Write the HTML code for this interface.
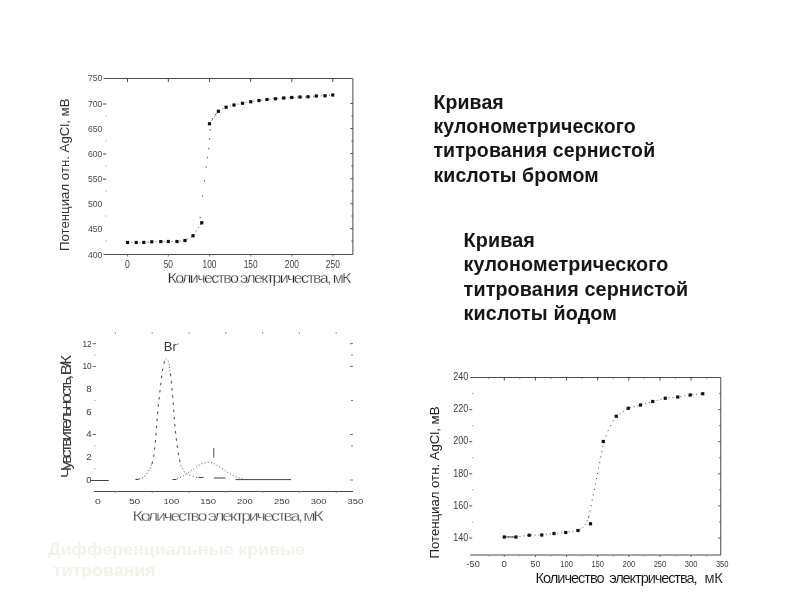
<!DOCTYPE html>
<html lang="ru"><head><meta charset="utf-8"><title>Кривые кулонометрического титрования</title>
<style>
html,body{margin:0;padding:0;background:#fff;}
body{width:800px;height:600px;position:relative;overflow:hidden;font-family:"Liberation Sans",sans-serif;}
.t{position:absolute;font-weight:bold;font-size:19.5px;line-height:24.2px;letter-spacing:0.12px;color:#151515;white-space:nowrap;}
#t1{left:433.4px;top:90.0px;}
#t2{left:463.6px;top:227.6px;line-height:24.5px;font-size:19.75px;}
#cap{position:absolute;left:48px;top:538.5px;font-weight:bold;font-size:16px;line-height:21.6px;color:#f3f2e9;white-space:pre;transform:scaleX(1.11);transform-origin:0 0;}
svg{position:absolute;left:0;top:0;}
svg text{font-family:"Liberation Sans",sans-serif;filter:blur(0.3px);}
svg text.ti{filter:none;}
</style></head><body>
<svg width="800" height="600" viewBox="0 0 800 600" shape-rendering="auto">
<g>
<line x1="103.5" y1="78.5" x2="352.9" y2="78.5" stroke="#4a4a4a" stroke-width="1" />
<line x1="103.5" y1="254.5" x2="352.9" y2="254.5" stroke="#4a4a4a" stroke-width="1" />
<line x1="352.9" y1="78.5" x2="352.9" y2="254.5" stroke="#4a4a4a" stroke-width="1" />
<line x1="127.5" y1="78.5" x2="127.5" y2="82.0" stroke="#4a4a4a" stroke-width="1" />
<line x1="127.5" y1="254.5" x2="127.5" y2="256.5" stroke="#777" stroke-width="1" />
<text x="127.5" y="267.8" font-size="10.8" text-anchor="middle" fill="#3a3a3a" textLength="4.8" lengthAdjust="spacingAndGlyphs" >0</text>
<line x1="168.3" y1="78.5" x2="168.3" y2="82.0" stroke="#4a4a4a" stroke-width="1" />
<line x1="168.3" y1="254.5" x2="168.3" y2="256.5" stroke="#777" stroke-width="1" />
<text x="168.3" y="267.8" font-size="10.8" text-anchor="middle" fill="#3a3a3a" textLength="9.2" lengthAdjust="spacingAndGlyphs" >50</text>
<line x1="209.5" y1="78.5" x2="209.5" y2="82.0" stroke="#4a4a4a" stroke-width="1" />
<line x1="209.5" y1="254.5" x2="209.5" y2="256.5" stroke="#777" stroke-width="1" />
<text x="209.5" y="267.8" font-size="10.8" text-anchor="middle" fill="#3a3a3a" textLength="14" lengthAdjust="spacingAndGlyphs" >100</text>
<line x1="250.7" y1="78.5" x2="250.7" y2="82.0" stroke="#4a4a4a" stroke-width="1" />
<line x1="250.7" y1="254.5" x2="250.7" y2="256.5" stroke="#777" stroke-width="1" />
<text x="250.7" y="267.8" font-size="10.8" text-anchor="middle" fill="#3a3a3a" textLength="14" lengthAdjust="spacingAndGlyphs" >150</text>
<line x1="291.8" y1="78.5" x2="291.8" y2="82.0" stroke="#4a4a4a" stroke-width="1" />
<line x1="291.8" y1="254.5" x2="291.8" y2="256.5" stroke="#777" stroke-width="1" />
<text x="291.8" y="267.8" font-size="10.8" text-anchor="middle" fill="#3a3a3a" textLength="14" lengthAdjust="spacingAndGlyphs" >200</text>
<line x1="332.8" y1="78.5" x2="332.8" y2="82.0" stroke="#4a4a4a" stroke-width="1" />
<line x1="332.8" y1="254.5" x2="332.8" y2="256.5" stroke="#777" stroke-width="1" />
<text x="332.8" y="267.8" font-size="10.8" text-anchor="middle" fill="#3a3a3a" textLength="14" lengthAdjust="spacingAndGlyphs" >250</text>
<text x="102.3" y="80.75" font-size="9.8" text-anchor="end" fill="#484848" textLength="14.4" lengthAdjust="spacingAndGlyphs" >750</text>
<text x="102.3" y="106.5" font-size="9.8" text-anchor="end" fill="#484848" textLength="14.4" lengthAdjust="spacingAndGlyphs" >700</text>
<line x1="103.0" y1="104.0" x2="106.3" y2="104.0" stroke="#4a4a4a" stroke-width="1" />
<line x1="350.4" y1="103.5" x2="352.9" y2="103.5" stroke="#4a4a4a" stroke-width="1" />
<text x="102.3" y="131.5" font-size="9.8" text-anchor="end" fill="#484848" textLength="14.4" lengthAdjust="spacingAndGlyphs" >650</text>
<line x1="350.4" y1="128.5" x2="352.9" y2="128.5" stroke="#4a4a4a" stroke-width="1" />
<text x="102.3" y="156.5" font-size="9.8" text-anchor="end" fill="#484848" textLength="14.4" lengthAdjust="spacingAndGlyphs" >600</text>
<line x1="103.0" y1="154.0" x2="106.3" y2="154.0" stroke="#4a4a4a" stroke-width="1" />
<line x1="350.4" y1="153.5" x2="352.9" y2="153.5" stroke="#4a4a4a" stroke-width="1" />
<text x="102.3" y="181.7" font-size="9.8" text-anchor="end" fill="#484848" textLength="14.4" lengthAdjust="spacingAndGlyphs" >550</text>
<line x1="103.0" y1="179.2" x2="106.3" y2="179.2" stroke="#4a4a4a" stroke-width="1" />
<line x1="350.4" y1="178.7" x2="352.9" y2="178.7" stroke="#4a4a4a" stroke-width="1" />
<text x="102.3" y="206.7" font-size="9.8" text-anchor="end" fill="#484848" textLength="14.4" lengthAdjust="spacingAndGlyphs" >500</text>
<line x1="350.4" y1="203.7" x2="352.9" y2="203.7" stroke="#4a4a4a" stroke-width="1" />
<text x="102.3" y="231.7" font-size="9.8" text-anchor="end" fill="#484848" textLength="14.4" lengthAdjust="spacingAndGlyphs" >450</text>
<line x1="350.4" y1="228.7" x2="352.9" y2="228.7" stroke="#4a4a4a" stroke-width="1" />
<text x="102.3" y="257.5" font-size="9.8" text-anchor="end" fill="#484848" textLength="14.4" lengthAdjust="spacingAndGlyphs" >400</text>
<line x1="105.5" y1="116" x2="106.5" y2="116" stroke="#888" stroke-width="1" />
<line x1="351.4" y1="116" x2="352.9" y2="116" stroke="#4a4a4a" stroke-width="1" />
<line x1="105.5" y1="141" x2="106.5" y2="141" stroke="#888" stroke-width="1" />
<line x1="351.4" y1="141" x2="352.9" y2="141" stroke="#4a4a4a" stroke-width="1" />
<line x1="105.5" y1="166" x2="106.5" y2="166" stroke="#888" stroke-width="1" />
<line x1="351.4" y1="166" x2="352.9" y2="166" stroke="#4a4a4a" stroke-width="1" />
<line x1="105.5" y1="191" x2="106.5" y2="191" stroke="#888" stroke-width="1" />
<line x1="351.4" y1="191" x2="352.9" y2="191" stroke="#4a4a4a" stroke-width="1" />
<line x1="105.5" y1="216" x2="106.5" y2="216" stroke="#888" stroke-width="1" />
<line x1="351.4" y1="216" x2="352.9" y2="216" stroke="#4a4a4a" stroke-width="1" />
<line x1="105.5" y1="241" x2="106.5" y2="241" stroke="#888" stroke-width="1" />
<line x1="351.4" y1="241" x2="352.9" y2="241" stroke="#4a4a4a" stroke-width="1" />
<g transform="translate(167.5 282.7) rotate(0) scale(1.15 1)"><text class="ti" x="0" y="0" font-size="14" fill="#222" textLength="160.00" lengthAdjust="spacing" stroke="#fff" stroke-width="0.3">Количество электричества, мК</text></g>
<g transform="translate(69.3 251) rotate(-90) scale(1.1 1)"><text class="ti" x="0" y="0" font-size="12" fill="#333" textLength="138.64" lengthAdjust="spacing">Потенциал отн. AgCl, мВ</text></g>
<path d="M127.5,242.5 L136.2,242.5 L143.8,242.4 L151.8,241.8 L160.8,241.6 L168.3,241.5 L177,241.5 L185,240.5 L193,235.75 L201.75,222.75" fill="none" stroke="#555" stroke-width="1" stroke-dasharray="1 3"/>
<path d="M209.5,123.75 L218.4,111.25 L226.1,107.2 L234,105 L242.5,103.25 L250.75,101.75 L259,100.5 L267,99.5 L275.5,98.75 L283.75,98 L291.75,97.5 L300,97 L308,96.75 L316.25,96 L325,95.75 L332.75,95" fill="none" stroke="#555" stroke-width="1" stroke-dasharray="1 3"/>
<rect x="199.60" y="216.80" width="1.2" height="1.4" fill="#666"/>
<rect x="201.90" y="195.30" width="1.2" height="1.4" fill="#666"/>
<rect x="203.90" y="180.30" width="1.2" height="1.4" fill="#666"/>
<rect x="205.65" y="166.30" width="1.2" height="1.4" fill="#666"/>
<rect x="206.90" y="156.80" width="1.2" height="1.4" fill="#666"/>
<rect x="208.15" y="147.80" width="1.2" height="1.4" fill="#666"/>
<rect x="208.90" y="138.05" width="1.2" height="1.4" fill="#666"/>
<rect x="209.40" y="129.30" width="1.2" height="1.4" fill="#666"/>
<rect x="211.90" y="118.05" width="1.2" height="1.4" fill="#666"/>
<rect x="214.90" y="113.90" width="1.2" height="1.4" fill="#666"/>
<rect x="125.90" y="240.90" width="3.2" height="3.2" fill="#111"/>
<rect x="134.60" y="240.90" width="3.2" height="3.2" fill="#111"/>
<rect x="142.20" y="240.80" width="3.2" height="3.2" fill="#111"/>
<rect x="150.20" y="240.20" width="3.2" height="3.2" fill="#111"/>
<rect x="159.20" y="240.00" width="3.2" height="3.2" fill="#111"/>
<rect x="166.70" y="239.90" width="3.2" height="3.2" fill="#111"/>
<rect x="175.40" y="239.90" width="3.2" height="3.2" fill="#111"/>
<rect x="183.40" y="238.90" width="3.2" height="3.2" fill="#111"/>
<rect x="191.40" y="234.15" width="3.2" height="3.2" fill="#111"/>
<rect x="200.15" y="221.15" width="3.2" height="3.2" fill="#111"/>
<rect x="207.90" y="122.15" width="3.2" height="3.2" fill="#111"/>
<rect x="216.80" y="109.65" width="3.2" height="3.2" fill="#111"/>
<rect x="224.50" y="105.60" width="3.2" height="3.2" fill="#111"/>
<rect x="232.40" y="103.40" width="3.2" height="3.2" fill="#111"/>
<rect x="240.90" y="101.65" width="3.2" height="3.2" fill="#111"/>
<rect x="249.15" y="100.15" width="3.2" height="3.2" fill="#111"/>
<rect x="257.40" y="98.90" width="3.2" height="3.2" fill="#111"/>
<rect x="265.40" y="97.90" width="3.2" height="3.2" fill="#111"/>
<rect x="273.90" y="97.15" width="3.2" height="3.2" fill="#111"/>
<rect x="282.15" y="96.40" width="3.2" height="3.2" fill="#111"/>
<rect x="290.15" y="95.90" width="3.2" height="3.2" fill="#111"/>
<rect x="298.40" y="95.40" width="3.2" height="3.2" fill="#111"/>
<rect x="306.40" y="95.15" width="3.2" height="3.2" fill="#111"/>
<rect x="314.65" y="94.40" width="3.2" height="3.2" fill="#111"/>
<rect x="323.40" y="94.15" width="3.2" height="3.2" fill="#111"/>
<rect x="331.15" y="93.40" width="3.2" height="3.2" fill="#111"/>
<line x1="94" y1="491.5" x2="353" y2="491.5" stroke="#4a4a4a" stroke-width="1" />
<text x="97.8" y="503.7" font-size="8" text-anchor="middle" fill="#3a3a3a" textLength="5.8" lengthAdjust="spacingAndGlyphs" >0</text>
<text x="134.60000000000002" y="503.7" font-size="8" text-anchor="middle" fill="#3a3a3a" textLength="11.4" lengthAdjust="spacingAndGlyphs" >50</text>
<text x="171.4" y="503.7" font-size="8" text-anchor="middle" fill="#3a3a3a" textLength="15.8" lengthAdjust="spacingAndGlyphs" >100</text>
<text x="208.20000000000002" y="503.7" font-size="8" text-anchor="middle" fill="#3a3a3a" textLength="15.8" lengthAdjust="spacingAndGlyphs" >150</text>
<text x="245.0" y="503.7" font-size="8" text-anchor="middle" fill="#3a3a3a" textLength="15.8" lengthAdjust="spacingAndGlyphs" >200</text>
<text x="281.8" y="503.7" font-size="8" text-anchor="middle" fill="#3a3a3a" textLength="15.8" lengthAdjust="spacingAndGlyphs" >250</text>
<text x="318.6" y="503.7" font-size="8" text-anchor="middle" fill="#3a3a3a" textLength="15.8" lengthAdjust="spacingAndGlyphs" >300</text>
<text x="355.4" y="503.7" font-size="8" text-anchor="middle" fill="#3a3a3a" textLength="15.8" lengthAdjust="spacingAndGlyphs" >350</text>
<line x1="115.4" y1="332.3" x2="115.4" y2="333.7" stroke="#777" stroke-width="1" />
<line x1="115.4" y1="491.5" x2="115.4" y2="493.0" stroke="#888" stroke-width="1" />
<line x1="152.2" y1="332.3" x2="152.2" y2="333.7" stroke="#777" stroke-width="1" />
<line x1="152.2" y1="491.5" x2="152.2" y2="493.0" stroke="#888" stroke-width="1" />
<line x1="189.0" y1="332.3" x2="189.0" y2="333.7" stroke="#777" stroke-width="1" />
<line x1="189.0" y1="491.5" x2="189.0" y2="493.0" stroke="#888" stroke-width="1" />
<line x1="225.79999999999998" y1="332.3" x2="225.79999999999998" y2="333.7" stroke="#777" stroke-width="1" />
<line x1="225.79999999999998" y1="491.5" x2="225.79999999999998" y2="493.0" stroke="#888" stroke-width="1" />
<line x1="262.6" y1="332.3" x2="262.6" y2="333.7" stroke="#777" stroke-width="1" />
<line x1="262.6" y1="491.5" x2="262.6" y2="493.0" stroke="#888" stroke-width="1" />
<line x1="299.4" y1="332.3" x2="299.4" y2="333.7" stroke="#777" stroke-width="1" />
<line x1="299.4" y1="491.5" x2="299.4" y2="493.0" stroke="#888" stroke-width="1" />
<line x1="336.19999999999993" y1="332.3" x2="336.19999999999993" y2="333.7" stroke="#777" stroke-width="1" />
<line x1="336.19999999999993" y1="491.5" x2="336.19999999999993" y2="493.0" stroke="#888" stroke-width="1" />
<text x="91.6" y="482.9" font-size="9" text-anchor="end" fill="#3a3a3a" textLength="5.4" lengthAdjust="spacingAndGlyphs" >0</text>
<text x="91.6" y="460.17999999999995" font-size="9" text-anchor="end" fill="#3a3a3a" textLength="5.4" lengthAdjust="spacingAndGlyphs" >2</text>
<text x="91.6" y="437.46" font-size="9" text-anchor="end" fill="#3a3a3a" textLength="5.4" lengthAdjust="spacingAndGlyphs" >4</text>
<line x1="92.5" y1="434.56" x2="96" y2="434.56" stroke="#666" stroke-width="1" />
<text x="91.6" y="414.74" font-size="9" text-anchor="end" fill="#3a3a3a" textLength="5.4" lengthAdjust="spacingAndGlyphs" >6</text>
<text x="91.6" y="392.02" font-size="9" text-anchor="end" fill="#3a3a3a" textLength="5.4" lengthAdjust="spacingAndGlyphs" >8</text>
<text x="91.6" y="369.29999999999995" font-size="9" text-anchor="end" fill="#3a3a3a" textLength="9.2" lengthAdjust="spacingAndGlyphs" >10</text>
<line x1="92.5" y1="366.4" x2="96" y2="366.4" stroke="#666" stroke-width="1" />
<text x="91.6" y="346.58" font-size="9" text-anchor="end" fill="#3a3a3a" textLength="9.2" lengthAdjust="spacingAndGlyphs" >12</text>
<line x1="92.5" y1="343.68" x2="96" y2="343.68" stroke="#666" stroke-width="1" />
<line x1="350" y1="343.68" x2="353" y2="343.68" stroke="#777" stroke-width="1" />
<line x1="350" y1="366.4" x2="353" y2="366.4" stroke="#777" stroke-width="1" />
<line x1="350" y1="434.56" x2="353" y2="434.56" stroke="#777" stroke-width="1" />
<line x1="350" y1="480.0" x2="353" y2="480.0" stroke="#777" stroke-width="1" />
<line x1="351" y1="355.04" x2="353" y2="355.04" stroke="#777" stroke-width="1" />
<line x1="94.5" y1="355.04" x2="95.5" y2="355.04" stroke="#888" stroke-width="1" />
<line x1="351" y1="400.48" x2="353" y2="400.48" stroke="#777" stroke-width="1" />
<line x1="94.5" y1="400.48" x2="95.5" y2="400.48" stroke="#888" stroke-width="1" />
<line x1="351" y1="445.92" x2="353" y2="445.92" stroke="#777" stroke-width="1" />
<line x1="94.5" y1="445.92" x2="95.5" y2="445.92" stroke="#888" stroke-width="1" />
<line x1="94.5" y1="468.64" x2="95.5" y2="468.64" stroke="#888" stroke-width="1" />
<g transform="translate(132.6 521.2) rotate(0) scale(1.15 1)"><text class="ti" x="0" y="0" font-size="15.5" fill="#444" textLength="166.09" lengthAdjust="spacing" stroke="#fff" stroke-width="0.3">Количество электричества, мК</text></g>
<g transform="translate(71 478) rotate(-90) scale(1.15 1)"><text class="ti" x="0" y="0" font-size="14.5" fill="#3a3a3a" textLength="106.96" lengthAdjust="spacing">Чувствительность, В/К</text></g>
<text x="163.8" y="350.8" font-size="13" text-anchor="start" fill="#3a3a3a" textLength="13" lengthAdjust="spacingAndGlyphs" >Br</text>
<line x1="177.3" y1="344" x2="179" y2="344" stroke="#888" stroke-width="1" />
<line x1="213.75" y1="448" x2="213.75" y2="457.5" stroke="#555" stroke-width="1" />
<path d="M135.7,479.3 L141.3,478.6 L145,476 L148,471.8 L150.2,468 L152,464" fill="none" stroke="#444" stroke-width="1" stroke-dasharray="1.2 2"/>
<path d="M152,464 L153.7,456.3 L155,446 L156.6,425.3 L158.4,404.7 L160.5,386.6 L162.3,371 L164.3,362" fill="none" stroke="#444" stroke-width="1" stroke-dasharray="2.6 4.6"/>
<path d="M164.3,362 L166.6,358.8 L168.7,362 L170.5,373.7" fill="none" stroke="#555" stroke-width="1" stroke-dasharray="1 2.2"/>
<path d="M170.5,373.7 L172,389 L173.4,404.7 L174.6,422.7 L176.5,440.8 L178.3,453.7 L180.8,465.3" fill="none" stroke="#444" stroke-width="1" stroke-dasharray="2.6 4.6"/>
<path d="M180.8,465.3 L184.2,471.8 L189.4,475 L194.5,477 L201,477.8" fill="none" stroke="#555" stroke-width="1" stroke-dasharray="1 2.4"/>
<path d="M177,478.6 L181.6,477 L188,473 L194.5,468 L201,464 L207.4,462.2 L212.6,462.7 L219,466.6 L226.8,471.8 L233.2,475.6 L238.4,477.6 L244,479.3" fill="none" stroke="#555" stroke-width="1" stroke-dasharray="1 2.2"/>
<line x1="90.6" y1="480.5" x2="108.75" y2="480.5" stroke="#444" stroke-width="1" />
<line x1="135.6" y1="479.5" x2="138.75" y2="479.5" stroke="#444" stroke-width="1" />
<line x1="172.5" y1="479.5" x2="176.5" y2="479.5" stroke="#444" stroke-width="1" />
<line x1="198.4" y1="477.5" x2="203.5" y2="477.5" stroke="#444" stroke-width="1" />
<line x1="213.9" y1="478" x2="225.5" y2="478" stroke="#444" stroke-width="1" />
<line x1="235.5" y1="479.6" x2="291" y2="479.6" stroke="#444" stroke-width="1" />
<line x1="470.2" y1="377.5" x2="720.75" y2="377.5" stroke="#4a4a4a" stroke-width="1" />
<line x1="470.2" y1="555" x2="720.75" y2="555" stroke="#4a4a4a" stroke-width="1" />
<line x1="720.75" y1="377.5" x2="720.75" y2="555" stroke="#4a4a4a" stroke-width="1" />
<text x="473.17" y="567" font-size="9.6" text-anchor="middle" fill="#3a3a3a" textLength="13.2" lengthAdjust="spacingAndGlyphs" >-50</text>
<line x1="504.3" y1="377.5" x2="504.3" y2="380.5" stroke="#4a4a4a" stroke-width="1" />
<line x1="504.3" y1="555" x2="504.3" y2="557" stroke="#666" stroke-width="1" />
<text x="504.3" y="567" font-size="9.6" text-anchor="middle" fill="#3a3a3a" textLength="5.4" lengthAdjust="spacingAndGlyphs" >0</text>
<line x1="535.4300000000001" y1="377.5" x2="535.4300000000001" y2="380.5" stroke="#4a4a4a" stroke-width="1" />
<line x1="535.4300000000001" y1="555" x2="535.4300000000001" y2="557" stroke="#666" stroke-width="1" />
<text x="535.4300000000001" y="567" font-size="9.6" text-anchor="middle" fill="#3a3a3a" textLength="9.8" lengthAdjust="spacingAndGlyphs" >50</text>
<line x1="566.5600000000001" y1="377.5" x2="566.5600000000001" y2="380.5" stroke="#4a4a4a" stroke-width="1" />
<line x1="566.5600000000001" y1="555" x2="566.5600000000001" y2="557" stroke="#666" stroke-width="1" />
<text x="566.5600000000001" y="567" font-size="9.6" text-anchor="middle" fill="#3a3a3a" textLength="12.6" lengthAdjust="spacingAndGlyphs" >100</text>
<line x1="597.69" y1="377.5" x2="597.69" y2="380.5" stroke="#4a4a4a" stroke-width="1" />
<line x1="597.69" y1="555" x2="597.69" y2="557" stroke="#666" stroke-width="1" />
<text x="597.69" y="567" font-size="9.6" text-anchor="middle" fill="#3a3a3a" textLength="12.6" lengthAdjust="spacingAndGlyphs" >150</text>
<line x1="628.82" y1="377.5" x2="628.82" y2="380.5" stroke="#4a4a4a" stroke-width="1" />
<line x1="628.82" y1="555" x2="628.82" y2="557" stroke="#666" stroke-width="1" />
<text x="628.82" y="567" font-size="9.6" text-anchor="middle" fill="#3a3a3a" textLength="12.6" lengthAdjust="spacingAndGlyphs" >200</text>
<line x1="659.95" y1="377.5" x2="659.95" y2="380.5" stroke="#4a4a4a" stroke-width="1" />
<line x1="659.95" y1="555" x2="659.95" y2="557" stroke="#666" stroke-width="1" />
<text x="659.95" y="567" font-size="9.6" text-anchor="middle" fill="#3a3a3a" textLength="12.6" lengthAdjust="spacingAndGlyphs" >250</text>
<line x1="691.08" y1="377.5" x2="691.08" y2="380.5" stroke="#4a4a4a" stroke-width="1" />
<line x1="691.08" y1="555" x2="691.08" y2="557" stroke="#666" stroke-width="1" />
<text x="691.08" y="567" font-size="9.6" text-anchor="middle" fill="#3a3a3a" textLength="12.6" lengthAdjust="spacingAndGlyphs" >300</text>
<text x="722.21" y="567" font-size="9.6" text-anchor="middle" fill="#3a3a3a" textLength="12.6" lengthAdjust="spacingAndGlyphs" >350</text>
<line x1="488.735" y1="377.5" x2="488.735" y2="379.0" stroke="#888" stroke-width="1" />
<line x1="488.735" y1="555" x2="488.735" y2="556.3" stroke="#888" stroke-width="1" />
<line x1="519.865" y1="377.5" x2="519.865" y2="379.0" stroke="#888" stroke-width="1" />
<line x1="519.865" y1="555" x2="519.865" y2="556.3" stroke="#888" stroke-width="1" />
<line x1="550.995" y1="377.5" x2="550.995" y2="379.0" stroke="#888" stroke-width="1" />
<line x1="550.995" y1="555" x2="550.995" y2="556.3" stroke="#888" stroke-width="1" />
<line x1="582.125" y1="377.5" x2="582.125" y2="379.0" stroke="#888" stroke-width="1" />
<line x1="582.125" y1="555" x2="582.125" y2="556.3" stroke="#888" stroke-width="1" />
<line x1="613.255" y1="377.5" x2="613.255" y2="379.0" stroke="#888" stroke-width="1" />
<line x1="613.255" y1="555" x2="613.255" y2="556.3" stroke="#888" stroke-width="1" />
<line x1="644.385" y1="377.5" x2="644.385" y2="379.0" stroke="#888" stroke-width="1" />
<line x1="644.385" y1="555" x2="644.385" y2="556.3" stroke="#888" stroke-width="1" />
<line x1="675.515" y1="377.5" x2="675.515" y2="379.0" stroke="#888" stroke-width="1" />
<line x1="675.515" y1="555" x2="675.515" y2="556.3" stroke="#888" stroke-width="1" />
<line x1="706.645" y1="377.5" x2="706.645" y2="379.0" stroke="#888" stroke-width="1" />
<line x1="706.645" y1="555" x2="706.645" y2="556.3" stroke="#888" stroke-width="1" />
<text x="468.2" y="540.7" font-size="11.2" text-anchor="end" fill="#3a3a3a" textLength="15" lengthAdjust="spacingAndGlyphs" >140</text>
<line x1="469.2" y1="538.0" x2="472.2" y2="538.0" stroke="#555" stroke-width="1" />
<line x1="718.25" y1="538.0" x2="720.75" y2="538.0" stroke="#4a4a4a" stroke-width="1" />
<text x="468.2" y="508.59999999999997" font-size="11.2" text-anchor="end" fill="#3a3a3a" textLength="15" lengthAdjust="spacingAndGlyphs" >160</text>
<line x1="469.2" y1="505.9" x2="472.2" y2="505.9" stroke="#555" stroke-width="1" />
<line x1="718.25" y1="505.9" x2="720.75" y2="505.9" stroke="#4a4a4a" stroke-width="1" />
<text x="468.2" y="476.5" font-size="11.2" text-anchor="end" fill="#3a3a3a" textLength="15" lengthAdjust="spacingAndGlyphs" >180</text>
<line x1="469.2" y1="473.8" x2="472.2" y2="473.8" stroke="#555" stroke-width="1" />
<line x1="718.25" y1="473.8" x2="720.75" y2="473.8" stroke="#4a4a4a" stroke-width="1" />
<text x="468.2" y="444.4" font-size="11.2" text-anchor="end" fill="#3a3a3a" textLength="15" lengthAdjust="spacingAndGlyphs" >200</text>
<line x1="469.2" y1="441.7" x2="472.2" y2="441.7" stroke="#555" stroke-width="1" />
<line x1="718.25" y1="441.7" x2="720.75" y2="441.7" stroke="#4a4a4a" stroke-width="1" />
<text x="468.2" y="412.3" font-size="11.2" text-anchor="end" fill="#3a3a3a" textLength="15" lengthAdjust="spacingAndGlyphs" >220</text>
<line x1="469.2" y1="409.6" x2="472.2" y2="409.6" stroke="#555" stroke-width="1" />
<line x1="718.25" y1="409.6" x2="720.75" y2="409.6" stroke="#4a4a4a" stroke-width="1" />
<text x="468.2" y="380.2" font-size="11.2" text-anchor="end" fill="#3a3a3a" textLength="15" lengthAdjust="spacingAndGlyphs" >240</text>
<line x1="472.2" y1="521.95" x2="473.2" y2="521.95" stroke="#888" stroke-width="1" />
<line x1="719.25" y1="521.95" x2="720.75" y2="521.95" stroke="#4a4a4a" stroke-width="1" />
<line x1="472.2" y1="489.85" x2="473.2" y2="489.85" stroke="#888" stroke-width="1" />
<line x1="719.25" y1="489.85" x2="720.75" y2="489.85" stroke="#4a4a4a" stroke-width="1" />
<line x1="472.2" y1="457.75" x2="473.2" y2="457.75" stroke="#888" stroke-width="1" />
<line x1="719.25" y1="457.75" x2="720.75" y2="457.75" stroke="#4a4a4a" stroke-width="1" />
<line x1="472.2" y1="425.65" x2="473.2" y2="425.65" stroke="#888" stroke-width="1" />
<line x1="719.25" y1="425.65" x2="720.75" y2="425.65" stroke="#4a4a4a" stroke-width="1" />
<line x1="472.2" y1="393.55" x2="473.2" y2="393.55" stroke="#888" stroke-width="1" />
<line x1="719.25" y1="393.55" x2="720.75" y2="393.55" stroke="#4a4a4a" stroke-width="1" />
<g transform="translate(535.6 582.8) scale(0.95 1)"><text class="ti" x="0" y="0" font-size="15.4" fill="#111" textLength="72.63" lengthAdjust="spacing" stroke="#fff" stroke-width="0.1">Количество</text></g>
<g transform="translate(609.2 582.8) scale(0.95 1)"><text class="ti" x="0" y="0" font-size="15.4" fill="#111" textLength="92.95" lengthAdjust="spacing" stroke="#fff" stroke-width="0.1">электричества,</text></g>
<g transform="translate(704.6 582.8) scale(0.95 1)"><text class="ti" x="0" y="0" font-size="15.4" fill="#111" textLength="19.16" lengthAdjust="spacing" stroke="#fff" stroke-width="0.1">мК</text></g>
<g transform="translate(438.7 558.5) rotate(-90) scale(1.07 1)"><text class="ti" x="0" y="0" font-size="12.4" fill="#222" textLength="142.06" lengthAdjust="spacing">Потенциал отн. AgCl, мВ</text></g>
<line x1="504.3" y1="537" x2="516" y2="537" stroke="#333" stroke-width="1" />
<path d="M504.3,537 L516,537 L529.25,535.2 L541.75,535 L554,533.5 L565.75,532.5 L578,530.5 L582,528.5 L584.8,525.5 L587,521.5 L588.75,517" fill="none" stroke="#555" stroke-width="1" stroke-dasharray="1 2.8"/>
<path d="M588.75,517 L591,506.25 L593.25,495 L595.5,483.75 L597.75,472.5 L600,461.25 L602.25,450 L603.6,441.9 L608,431 L613,421 L616.25,416.25" fill="none" stroke="#555" stroke-width="1" stroke-dasharray="1.2 4.3"/>
<path d="M616.25,416.25 L628.25,408.25 L640.5,405 L652.75,401.5 L665.25,398.25 L677.75,397 L690.25,395 L702.75,393.75" fill="none" stroke="#555" stroke-width="1" stroke-dasharray="1 3"/>
<rect x="502.70" y="535.40" width="3.2" height="3.2" fill="#111"/>
<rect x="514.40" y="535.40" width="3.2" height="3.2" fill="#111"/>
<rect x="527.65" y="533.60" width="3.2" height="3.2" fill="#111"/>
<rect x="540.15" y="533.40" width="3.2" height="3.2" fill="#111"/>
<rect x="552.40" y="531.90" width="3.2" height="3.2" fill="#111"/>
<rect x="564.15" y="530.90" width="3.2" height="3.2" fill="#111"/>
<rect x="576.40" y="528.90" width="3.2" height="3.2" fill="#111"/>
<rect x="588.90" y="522.15" width="3.2" height="3.2" fill="#111"/>
<rect x="601.65" y="439.90" width="3.2" height="3.2" fill="#111"/>
<rect x="614.65" y="414.65" width="3.2" height="3.2" fill="#111"/>
<rect x="626.65" y="406.65" width="3.2" height="3.2" fill="#111"/>
<rect x="638.90" y="403.40" width="3.2" height="3.2" fill="#111"/>
<rect x="651.15" y="399.90" width="3.2" height="3.2" fill="#111"/>
<rect x="663.65" y="396.65" width="3.2" height="3.2" fill="#111"/>
<rect x="676.15" y="395.40" width="3.2" height="3.2" fill="#111"/>
<rect x="688.65" y="393.40" width="3.2" height="3.2" fill="#111"/>
<rect x="701.15" y="392.15" width="3.2" height="3.2" fill="#111"/>
</g>
</svg>
<div class="t" id="t1">Кривая<br>кулонометрического<br>титрования сернистой<br>кислоты бромом</div>
<div class="t" id="t2">Кривая<br>кулонометрического<br>титрования сернистой<br>кислоты йодом</div>
<div id="cap">Дифференциальные кривые
 титрования</div>
</body></html>
